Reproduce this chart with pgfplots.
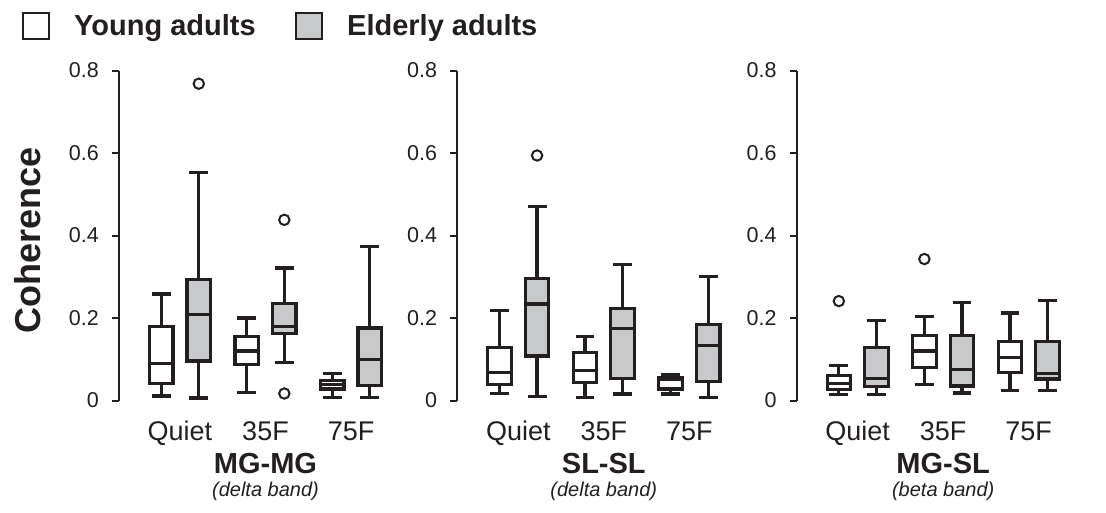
\documentclass[border=0pt]{standalone}
\usepackage{pgfplots}
\pgfplotsset{compat=1.18}
\usepgfplotslibrary{statistics}
\usepackage{fontspec}
\setmainfont{Liberation Sans}
\definecolor{dk}{RGB}{35,31,32}
\definecolor{boxgray}{RGB}{200,201,203}

\pgfplotsset{
  cohaxis/.style={
    scale only axis, width=293pt, height=330pt,
    xmin=0.287, xmax=3.713, ymin=0, ymax=0.8,
    axis y line*=left, axis x line*=bottom,
    x axis line style={draw=none},
    y axis line style={line width=2pt, dk},
    xtick={1,2,3}, xticklabels={Quiet,35F,75F},
    xtick style={draw=none},
    ytick={0,0.2,0.4,0.6,0.8}, yticklabels={0,0.2,0.4,0.6,0.8},
    ytick style={line width=2pt, dk},
    tick align=outside, major tick length=7pt,
    /pgf/number format/assume math mode=true,
    yticklabel style={font=\fontsize{21.5}{24}\selectfont, text=dk, anchor=east, inner sep=0pt, xshift=-13pt},
    xticklabel style={font=\fontsize{27}{30}\selectfont, text=dk, anchor=base, inner sep=0pt, yshift=-32.5pt},
    clip=false,
    boxplot/draw direction=y,
    boxplot/box extend=0.275,
    boxplot/whisker extend=0.22,
    boxplot/every box/.style={line width=3.2pt},
    boxplot/every whisker/.style={line width=3.2pt},
    boxplot/every median/.style={line width=3.2pt},
  },
  yb/.style={draw=dk, line width=3.2pt, fill=white, mark=o, mark size=5.2pt, mark options={line width=2pt, fill=white}},
  eb/.style={draw=dk, line width=3.2pt, fill=boxgray, mark=o, mark size=5.2pt, mark options={line width=2pt, fill=white}},
}
\newcommand{\bx}[8]{\addplot[#1, boxplot prepared={draw position=#2, lower whisker=#3, lower quartile=#4, median=#5, upper quartile=#6, upper whisker=#7}] coordinates {#8};}
\newcommand{\ttl}[2]{%
  \node[anchor=base, inner sep=0pt, text=dk, font=\bfseries\fontsize{29}{32}\selectfont, yshift=-72.5pt] at (axis cs:2,0) {#1};
  \node[anchor=base, inner sep=0pt, text=dk, font=\itshape\fontsize{20}{24}\selectfont, yshift=-96pt] at (axis cs:2,0) {#2};}

\begin{document}
\begin{tikzpicture}
\useasboundingbox (0,0) rectangle (1106pt,-513pt);
% legend
\draw[dk, line width=2pt, fill=white] (23pt,-13pt) rectangle (49pt,-39pt);
\node[anchor=base west, inner sep=0pt, text=dk, font=\bfseries\fontsize{29}{32}\selectfont] at (74pt,-36pt) {Young adults};
\draw[dk, line width=2pt, fill=boxgray] (296pt,-13pt) rectangle (322pt,-39pt);
\node[anchor=base west, inner sep=0pt, text=dk, font=\bfseries\fontsize{29}{32}\selectfont] at (347pt,-36pt) {Elderly adults};
\node[rotate=90, inner sep=0pt, text=dk, font=\bfseries\fontsize{36}{40}\selectfont] at (27.5pt,-240pt) {Coherence};

% Panel 1: MG-MG
\begin{axis}[cohaxis, at={(119pt,-400.5pt)}, anchor=south west]
\bx{yb}{0.78}{0.011}{0.042}{0.089}{0.180}{0.258}{}
\bx{eb}{1.22}{0.006}{0.096}{0.208}{0.293}{0.552}{(0,0.768)}
\bx{yb}{1.78}{0.019}{0.088}{0.120}{0.155}{0.200}{}
\bx{eb}{2.22}{0.093}{0.163}{0.179}{0.235}{0.321}{(0,0.438) (0,0.017)}
\bx{yb}{2.78}{0.008}{0.028}{0.038}{0.049}{0.065}{}
\bx{eb}{3.22}{0.007}{0.036}{0.099}{0.176}{0.374}{}
\ttl{MG-MG}{(delta band)}
\end{axis}

% Panel 2: SL-SL
\begin{axis}[cohaxis, at={(457.3pt,-400.5pt)}, anchor=south west]
\bx{yb}{0.78}{0.017}{0.038}{0.068}{0.129}{0.218}{}
\bx{eb}{1.22}{0.010}{0.108}{0.234}{0.295}{0.470}{(0,0.594)}
\bx{yb}{1.78}{0.008}{0.044}{0.072}{0.116}{0.156}{}
\bx{eb}{2.22}{0.016}{0.054}{0.174}{0.223}{0.329}{}
\bx{yb}{2.78}{0.016}{0.028}{0.050}{0.056}{0.062}{}
\bx{eb}{3.22}{0.007}{0.047}{0.133}{0.184}{0.300}{}
\ttl{SL-SL}{(delta band)}
\end{axis}

% Panel 3: MG-SL
\begin{axis}[cohaxis, at={(796.7pt,-400.5pt)}, anchor=south west]
\bx{yb}{0.78}{0.015}{0.026}{0.041}{0.060}{0.085}{(0,0.241)}
\bx{eb}{1.22}{0.015}{0.034}{0.053}{0.128}{0.194}{}
\bx{yb}{1.78}{0.038}{0.080}{0.120}{0.157}{0.204}{(0,0.343)}
\bx{eb}{2.22}{0.018}{0.035}{0.075}{0.157}{0.237}{}
\bx{yb}{2.78}{0.025}{0.067}{0.104}{0.143}{0.212}{}
\bx{eb}{3.22}{0.025}{0.052}{0.066}{0.143}{0.243}{}
\ttl{MG-SL}{(beta band)}
\end{axis}
\end{tikzpicture}
\end{document}
